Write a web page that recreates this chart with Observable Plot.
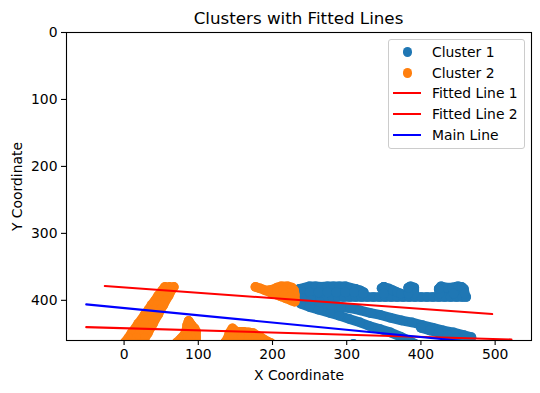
<!DOCTYPE html>
<html>
<head>
<meta charset="utf-8">
<script src="https://cdn.jsdelivr.net/npm/d3@7"></script>
<script src="https://cdn.jsdelivr.net/npm/@observablehq/plot@0.6"></script>
<style>
html,body{margin:0;padding:0;background:#fff;}
#wrap{position:relative;width:540px;height:393px;font-family:"DejaVu Sans",sans-serif;color:#000;overflow:hidden;}
#title{position:absolute;left:66px;width:465px;top:8px;text-align:center;font-size:16.7px;line-height:20px;}
#legend{position:absolute;left:388px;top:39px;width:135px;height:108px;border:1px solid #ccc;border-radius:3px;background:rgba(255,255,255,.8);}
.row{position:absolute;left:0;height:20px;width:135px;font-size:13.9px;line-height:20px;}
.row span.t{position:absolute;left:43px;top:0;white-space:nowrap;}
.sw-dot{position:absolute;left:13.5px;top:5.4px;width:9.7px;height:9.7px;border-radius:50%;}
.sw-line{position:absolute;left:4px;top:9px;width:28px;height:2px;}
</style>
</head>
<body>
<div id="wrap">
<div id="title">Clusters with Fitted Lines</div>
<div id="legend"></div>
</div>
<script>
const titleText = "Clusters with Fitted Lines";
const xLabel = "X Coordinate";
const yLabel = "Y Coordinate";
const xTicks = [0, 100, 200, 300, 400, 500];
const yTicks = [0, 100, 200, 300, 400];

const clusterOneFlat = [[232,395],[240,395],[248,395],[256,395],[264,395],[272,395],[280,395],[288,395],[296,395],[304,395],[312,395],[320,395],[328,395],[336,395],[344,395],[352,395],[360,395],[368,395],[376,395],[384,395],[392,395],[400,395],[408,395],[416,395],[424,395],[432,395],[440,395],[448,395],[456,395],[461,395]];
const clusterOneTop = [[236,383],[244,381],[250,379],[258,379],[266,380],[274,379],[282,379],[290,379],[298,379],[304,381],[312,383],[318,385],[323,388]];
const clusterOneMiddle = [[240,388],[250,388],[262,388],[274,388],[286,388],[298,388],[310,388],[322,390]];
const clusterOneBumpA = [[347,382],[350,380],[356,382],[362,385],[368,388],[373,390]];
const clusterOneBumpAFoot = [[350,380],[350,390]];
const clusterOneBumpB = [[383,381],[386,379],[391,381],[391,390],[383,390],[383,381]];
const clusterOneBumpC = [[424,383],[427,379],[434,381],[442,381],[450,379],[455,380],[458,383],[459,390],[444,390],[425,390],[424,383]];
const clusterOneBandLower = [[238,405],[250,410],[262,414],[278,419],[290,423],[304,428],[318,433],[330,438],[345,443],[359,448],[372,454],[385,461],[392,465]];
const clusterOneBandUpper = [[240,397],[252,400],[264,403],[278,407],[292,410],[305,412],[318,415],[332,419],[346,422],[359,426],[374,430],[388,433],[402,437],[416,441],[430,445],[444,448],[458,452],[468,455]];
const clusterOneBandEdge = [[400,441],[412,445],[424,448],[436,452],[448,456],[460,459]];
const clusterOneStray = [[309,465]];

const clusterTwoDiagLeft = [[55,380],[51,386],[46,393],[42,400],[37,407],[33,414],[28,421],[24,428],[19,435],[15,442],[10,449],[6,456],[1,463]];
const clusterTwoDiagMid = [[61,380],[57,386],[53,393],[49,400],[45,407],[41,414],[37,421],[33,428],[29,435],[25,442],[21,449],[17,456],[13,463]];
const clusterTwoDiagRight = [[67,380],[63,386],[60,393],[56,400],[53,407],[49,414],[46,421],[42,428],[39,435],[35,442],[32,449],[28,456],[25,463]];
const clusterTwoPeakLeft = [[87,431],[85,437],[84,445],[81,452],[76,458],[71,463]];
const clusterTwoPeakRight = [[87,431],[90,436],[95,442],[97,447],[97,455],[97,462]];
const clusterTwoPeakCore = [[90,436],[90,445],[90,455],[90,463]];
const clusterTwoPeakFoot = [[85,445],[85,455],[85,463]];
const clusterTwoRidgeTop = [[136,463],[140,456],[142,449],[146,442],[150,446],[155,447],[161,447],[168,448],[174,449],[180,453],[185,456],[189,459],[194,462],[198,464]];
const clusterTwoRidgeInner = [[148,456],[158,456],[168,456],[178,456]];
const clusterTwoRidgeBase = [[150,463],[165,463],[180,463]];
const clusterTwoTail = [[177,380],[183,382],[190,385],[197,388],[204,391],[211,394],[218,397],[225,400],[230,402]];
const clusterTwoBlobEdge = [[195,385],[200,384],[206,381],[212,379],[220,379],[226,381],[229,385],[230,392],[230,398]];
const clusterTwoBlobInner = [[206,387],[214,385],[222,390],[216,392],[224,395]];

const fittedLineOne = [[-26,378.6],[496,420.5]];
const fittedLineTwo = [[-51,440],[522,458.5]];
const mainLine = [[-51,406],[522,468]];

const clusterOneStrands = [clusterOneFlat, clusterOneTop, clusterOneMiddle, clusterOneBumpA, clusterOneBumpAFoot, clusterOneBumpB, clusterOneBumpC, clusterOneBandLower, clusterOneBandUpper, clusterOneBandEdge, clusterOneStray];
const clusterTwoStrands = [clusterTwoDiagLeft, clusterTwoDiagMid, clusterTwoDiagRight, clusterTwoPeakLeft, clusterTwoPeakRight, clusterTwoPeakCore, clusterTwoPeakFoot, clusterTwoRidgeTop, clusterTwoRidgeInner, clusterTwoRidgeBase, clusterTwoTail, clusterTwoBlobEdge, clusterTwoBlobInner];

const legendEntries = [
  {label:"Cluster 1", kind:"dot", color:"#1f77b4"},
  {label:"Cluster 2", kind:"dot", color:"#ff7f0e"},
  {label:"Fitted Line 1", kind:"line", color:"#ff0000"},
  {label:"Fitted Line 2", kind:"line", color:"#ff0000"},
  {label:"Main Line", kind:"line", color:"#0000ff"}
];

const pointOpts = (fill) => ({x:d=>d[0], y:d=>d[1], r:4.85, fill, clip:"frame"});
const lineOpts = (stroke) => ({x:d=>d[0], y:d=>d[1], stroke, strokeWidth:2.08, clip:"frame"});
const strandMarks = (strands, color) => [
  ...strands.map(s => Plot.line(s, {x:d=>d[0], y:d=>d[1], stroke:color, strokeWidth:9.7, clip:"frame"})),
  Plot.dot(strands.flat(), pointOpts(color))
];

const chart = Plot.plot({
  width:540,
  height:393,
  marginLeft:66,
  marginRight:9,
  marginTop:32,
  marginBottom:53,
  style:{fontFamily:"'DejaVu Sans',sans-serif", fontSize:"13.9px", color:"#000", background:"transparent", overflow:"visible"},
  x:{domain:[-77.6,549], label:null},
  y:{domain:[460,0], label:null},
  marks:[
    ...strandMarks(clusterOneStrands, "#1f77b4"),
    ...strandMarks(clusterTwoStrands, "#ff7f0e"),
    Plot.line(fittedLineOne, lineOpts("#ff0000")),
    Plot.line(fittedLineTwo, lineOpts("#ff0000")),
    Plot.line(mainLine, lineOpts("#0000ff")),
    Plot.frame({stroke:"#000", strokeWidth:1.1}),
    Plot.axisX(xTicks, {tickSize:5, tickPadding:4, strokeWidth:1.1, label:xLabel, labelAnchor:"center", labelArrow:"none", labelOffset:39, fontSize:13.9, anchor:"bottom"}),
    Plot.axisY(yTicks, {tickSize:5, tickPadding:4, strokeWidth:1.1, label:yLabel, labelAnchor:"center", labelArrow:"none", labelOffset:54, fontSize:13.9, anchor:"left"})
  ]
});
const wrap = document.getElementById("wrap");
wrap.insertBefore(chart, wrap.firstChild);
chart.style.position = "absolute";
chart.style.left = "0";
chart.style.top = "0";
document.getElementById("title").textContent = titleText;

const legend = document.getElementById("legend");
legendEntries.forEach((e,i)=>{
  const row = document.createElement("div");
  row.className = "row";
  row.style.top = (2 + i*20.7) + "px";
  const sw = document.createElement("div");
  sw.className = e.kind === "dot" ? "sw-dot" : "sw-line";
  sw.style.background = e.color;
  const t = document.createElement("span");
  t.className = "t";
  t.textContent = e.label;
  row.append(sw,t);
  legend.append(row);
});
</script>
</body>
</html>
